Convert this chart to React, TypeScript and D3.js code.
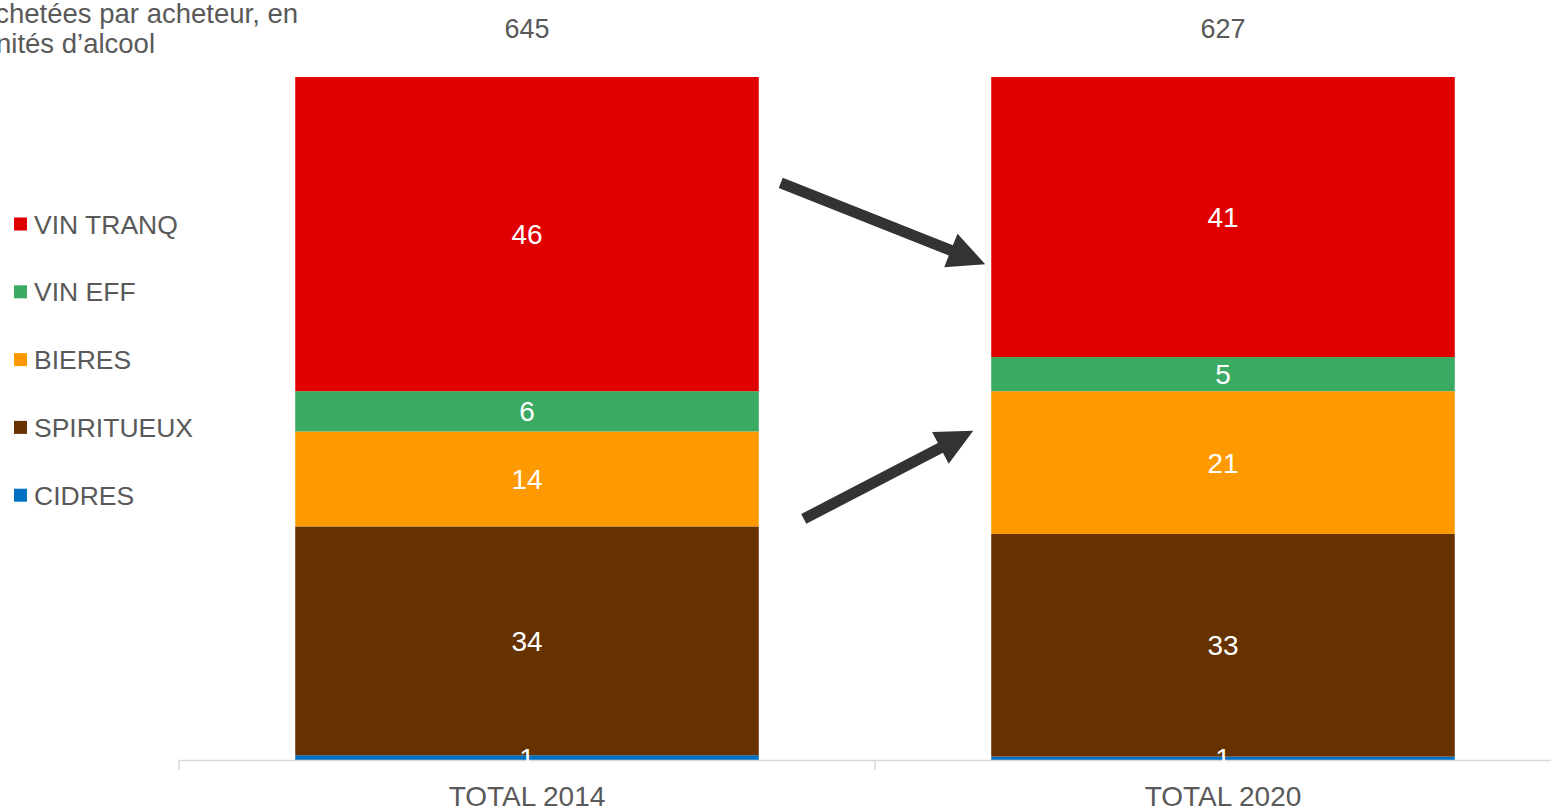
import React from "react";
import * as d3 from "d3";

const categories = ["TOTAL 2014", "TOTAL 2020"];
const totals = [645, 627];
const seriesNames = ["CIDRES", "SPIRITUEUX", "BIERES", "VIN EFF", "VIN TRANQ"];
const seriesColors = ["#0070C0", "#663300", "#FF9900", "#3BAA62", "#E00000"];
const cidres = [0.7, 0.5];
const spiritueux = [33.5, 32.6];
const bieres = [13.9, 20.9];
const vinEff = [5.9, 5.0];
const vinTranq = [46.0, 41.0];
const legendOrder = ["VIN TRANQ", "VIN EFF", "BIERES", "SPIRITUEUX", "CIDRES"];
const titleLines = ["Quantités achetées par acheteur, en", "unités d’alcool"];

const W = 1551;
const H = 809;
const FONT = "'Liberation Sans', Arial, Helvetica, sans-serif";
const GREY = "#595959";

export default function App() {
  const seriesValues = [cidres, spiritueux, bieres, vinEff, vinTranq];
  const rows = categories.map((c, i) => {
    const r: any = { cat: c };
    seriesNames.forEach((s, k) => (r[s] = seriesValues[k][i]));
    return r;
  });
  const stack = d3.stack<any>().keys(seriesNames)(rows);

  const x = d3
    .scaleBand<string>()
    .domain(categories)
    .range([179, 1571])
    .paddingInner(0.334)
    .paddingOuter(0.167);
  const y = d3.scaleLinear().domain([0, 100]).range([760, 77]);
  const color = d3.scaleOrdinal<string, string>().domain(seriesNames).range(seriesColors);
  const bw = x.bandwidth();

  const x0 = x(categories[0])!;
  const x1 = x(categories[1])!;
  const arrows = [
    { x1: x0 + bw + 22, y1: y(84.5), x2: x1 - 6, y2: y(72.6) },
    { x1: x0 + bw + 45, y1: y(35.3), x2: x1 - 18, y2: y(48.2) },
  ];

  const arrowShape = (a: any) => {
    const dx = a.x2 - a.x1;
    const dy = a.y2 - a.y1;
    const len = Math.sqrt(dx * dx + dy * dy);
    const ux = dx / len;
    const uy = dy / len;
    const px = -uy;
    const py = ux;
    const headLen = 37;
    const headW = 18;
    const shaftW = 5.5;
    const bx = a.x2 - ux * headLen;
    const by = a.y2 - uy * headLen;
    const pts = [
      [a.x1 + px * shaftW, a.y1 + py * shaftW],
      [bx + px * shaftW, by + py * shaftW],
      [bx + px * headW, by + py * headW],
      [a.x2, a.y2],
      [bx - px * headW, by - py * headW],
      [bx - px * shaftW, by - py * shaftW],
      [a.x1 - px * shaftW, a.y1 - py * shaftW],
    ];
    return "M" + pts.map((p) => p.join(",")).join("L") + "Z";
  };

  return (
    <svg
      width={W}
      height={H}
      style={{ position: "fixed", left: 0, top: 0, background: "#fff" }}
      fontFamily={FONT}
    >
      {/* title */}
      <text x={298} y={23} fontSize={27.5} fill={GREY} textAnchor="end">
        {titleLines[0]}
      </text>
      <text x={155} y={53} fontSize={27.5} fill={GREY} textAnchor="end">
        {titleLines[1]}
      </text>

      {/* bars */}
      {stack.map((layer) =>
        layer.map((d, i) => (
          <rect
            key={layer.key + i}
            x={x(categories[i])}
            y={y(d[1])}
            width={bw}
            height={y(d[0]) - y(d[1])}
            fill={color(layer.key)}
          />
        ))
      )}

      {/* axis */}
      <line x1={179} x2={1571} y1={760.5} y2={760.5} stroke="#D9D9D9" strokeWidth={1.5} />
      {[0, 1, 2].map((k) => (
        <line
          key={k}
          x1={179 + k * x.step()}
          x2={179 + k * x.step()}
          y1={760}
          y2={770}
          stroke="#D9D9D9"
          strokeWidth={1.5}
        />
      ))}

      {/* segment labels */}
      {stack.map((layer) =>
        layer.map((d, i) => (
          <text
            key={"l" + layer.key + i}
            x={x(categories[i])! + bw / 2}
            y={(y(d[0]) + y(d[1])) / 2}
            dy="0.36em"
            fontSize={28}
            fill="#fff"
            textAnchor="middle"
          >
            {Math.round(d[1] - d[0])}
          </text>
        ))
      )}

      {/* totals */}
      {categories.map((c, i) => (
        <text
          key={"t" + c}
          x={x(c)! + bw / 2}
          y={28}
          dy="0.36em"
          fontSize={27}
          fill={GREY}
          textAnchor="middle"
        >
          {totals[i]}
        </text>
      ))}

      {/* category labels */}
      {categories.map((c) => (
        <text
          key={"c" + c}
          x={x(c)! + bw / 2}
          y={796}
          dy="0.36em"
          fontSize={28}
          fill={GREY}
          textAnchor="middle"
        >
          {c}
        </text>
      ))}

      {/* legend */}
      {legendOrder.map((s, k) => (
        <g key={"lg" + s} transform={`translate(14, ${224 + k * 67.8})`}>
          <rect x={0} y={-6.5} width={13} height={13} fill={color(s)} />
          <text x={20} y={0} dy="0.36em" fontSize={26.5} fill={GREY}>
            {s}
          </text>
        </g>
      ))}

      {/* arrows */}
      {arrows.map((a, k) => (
        <path key={"a" + k} d={arrowShape(a)} fill="#333333" />
      ))}
    </svg>
  );
}
